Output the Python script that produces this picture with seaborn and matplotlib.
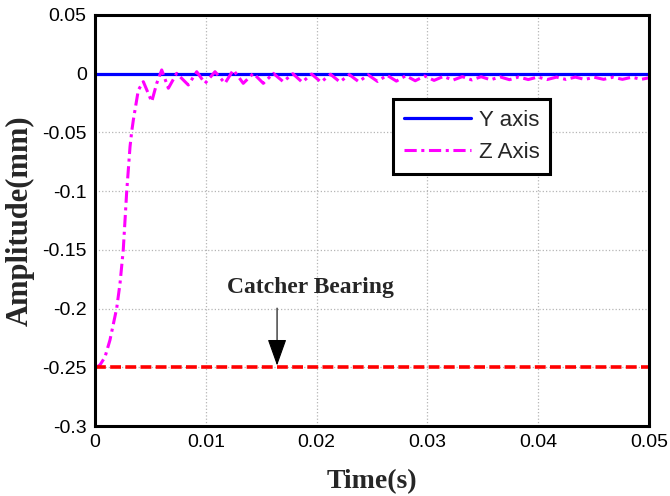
import matplotlib
matplotlib.use("Agg")
import matplotlib.pyplot as plt
import seaborn as sns
import pandas as pd

# Time base and response of the rotor (seconds, millimetres)
time_z = [0.0, 0.00015, 0.00045, 0.0009, 0.00135, 0.00196, 0.00226, 0.00255,
          0.00286, 0.00316, 0.00331, 0.00346, 0.00391, 0.00436, 0.00512,
          0.00557, 0.00602, 0.00662, 0.00737, 0.00842, 0.00918, 0.00993,
          0.01083, 0.01173, 0.01248, 0.01338, 0.01429, 0.01519, 0.01609,
          0.01699, 0.01785, 0.0187, 0.01955, 0.0204, 0.02125, 0.0221,
          0.02295, 0.0238, 0.02465, 0.0255, 0.02635, 0.0272, 0.02805,
          0.0289, 0.02975, 0.0306, 0.03145, 0.0323, 0.03315, 0.034,
          0.03485, 0.0357, 0.03655, 0.0374, 0.03825, 0.0391, 0.03995,
          0.0408, 0.04165, 0.0425, 0.04335, 0.0442, 0.04505, 0.0459,
          0.04675, 0.0476, 0.04845, 0.0493, 0.05]
amp_z = [-0.25, -0.2498, -0.248, -0.2413, -0.2268, -0.1996, -0.1783, -0.150,
         -0.1005, -0.0622, -0.0494, -0.0394, -0.0139, -0.0068, -0.0238,
         -0.0082, 0.0032, -0.0124, 0.0003, -0.0096, 0.0017, -0.0082,
         0.0017, -0.0082, 0.0032, -0.0082, 0.0003, -0.0082, 0.0003,
         -0.0068, 0.0, -0.0072, -0.0003, -0.0072, -0.0005, -0.007,
         -0.0008, -0.0068, -0.001, -0.0066, -0.0013, -0.0063, -0.0017,
         -0.006, -0.002, -0.0057, -0.0023, -0.0055, -0.0025, -0.0053,
         -0.0026, -0.0052, -0.0027, -0.0051, -0.0028, -0.005, -0.0028,
         -0.005, -0.0029, -0.0049, -0.0029, -0.0049, -0.003, -0.0048,
         -0.003, -0.0048, -0.003, -0.0048, -0.0035]
time_y = [0.0, 0.05]
amp_y = [0.0, 0.0]
bearing_t = [0.0, 0.05]
bearing_amp = [-0.25, -0.25]

x_ticks = [0, 0.01, 0.02, 0.03, 0.04, 0.05]
x_tick_labels = ["0", "0.01", "0.02", "0.03", "0.04", "0.05"]
y_ticks = [0.05, 0, -0.05, -0.1, -0.15, -0.2, -0.25, -0.3]
y_tick_labels = ["0.05", "0", "-0.05", "-0.1", "-0.15", "-0.2", "-0.25", "-0.3"]

sns.set_theme(style="white")
plt.rcParams["font.family"] = ["Liberation Sans", "DejaVu Sans"]

fig = plt.figure(figsize=(6.7, 4.96), dpi=100)
ax = fig.add_axes([0.1418, 0.1411, 0.8269, 0.8287])

df_y = pd.DataFrame({"t": time_y, "a": amp_y})
df_z = pd.DataFrame({"t": time_z, "a": amp_z})
df_b = pd.DataFrame({"t": bearing_t, "a": bearing_amp})

sns.lineplot(data=df_y, x="t", y="a", ax=ax, color="#0000ff", lw=2.3,
             label="Y axis", estimator=None, sort=False)
sns.lineplot(data=df_z, x="t", y="a", ax=ax, color="#ff00ff", lw=2.2,
             linestyle=(0, (4, 1.5, 1, 1.5)), label="Z Axis",
             estimator=None, sort=False)
sns.lineplot(data=df_b, x="t", y="a", ax=ax, color="#ff0000", lw=2.6,
             linestyle=(0, (3, 1.2)), estimator=None, sort=False)

ax.set_xlim(0, 0.05)
ax.set_ylim(-0.3, 0.05)
ax.set_xticks(x_ticks)
ax.set_xticklabels(x_tick_labels)
ax.set_yticks(y_ticks)
ax.set_yticklabels(y_tick_labels)
ax.tick_params(direction="in", length=5, width=2, colors="black",
               labelsize=14, pad=6)
ax.grid(True, linestyle=":", color="#b5b5b5", lw=0.9)
for sp in ax.spines.values():
    sp.set_color("black")
    sp.set_linewidth(2.2)

ax.set_xlabel("Time(s)", fontsize=20, fontweight="bold",
              family=["Liberation Serif"], labelpad=13)
ax.set_ylabel("Amplitude(mm)", fontsize=22, fontweight="bold",
              family=["Liberation Serif"], labelpad=5)

# Catcher bearing marker
ax.text(0.0194, -0.1817, "Catcher Bearing", fontsize=17, fontweight="bold",
        family=["Liberation Serif"], ha="center", va="center")
ax.annotate("", xy=(0.01643, -0.2485), xytext=(0.01643, -0.1996),
            arrowprops=dict(arrowstyle="-|>,head_length=1.4,head_width=0.5",
                            color="black", lw=0.8, shrinkA=0, shrinkB=0))

leg = ax.legend(loc="upper left", bbox_to_anchor=(0.538, 0.796),
                borderaxespad=0, fontsize=16, frameon=True, fancybox=False,
                handlelength=3.0, handletextpad=0.35, borderpad=0.5,
                labelspacing=0.5)
leg.get_frame().set_edgecolor("black")
leg.get_frame().set_linewidth(2.2)
leg.get_frame().set_alpha(1)

fig.savefig("out.png", dpi=100)
